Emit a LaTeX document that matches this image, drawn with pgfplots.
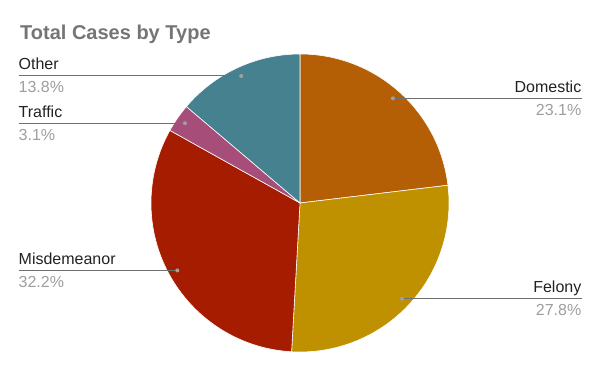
\documentclass[border=0pt]{standalone}
\usepackage{pgfplots}
\usepackage{pgfplotstable}
\pgfplotsset{compat=1.18}
\usepackage{fontspec}
\setmainfont{Liberation Sans}
\definecolor{cDom}{HTML}{B45F06}
\definecolor{cFel}{HTML}{BF9000}
\definecolor{cMis}{HTML}{A61C00}
\definecolor{cTra}{HTML}{A64D79}
\definecolor{cOth}{HTML}{45818E}
\definecolor{titlec}{HTML}{757575}
\definecolor{namec}{HTML}{222222}
\definecolor{pctc}{HTML}{9E9E9E}
\definecolor{leadc}{HTML}{6F6F6F}
\definecolor{dotc}{HTML}{A0A0A0}

\pgfplotstableread{
name pct col
Domestic 23.1 cDom
Felony 27.8 cFel
Misdemeanor 32.2 cMis
Traffic 3.1 cTra
Other 13.8 cOth
}\casedata

\begin{document}
\begin{tikzpicture}
\begin{axis}[width=600pt,height=371pt,scale only axis,xmin=0,xmax=600,ymin=0,ymax=371,hide axis,clip=false]
\addplot[draw=none] coordinates {(0,0) (600,371)};
% slices
\def\cum{0}
\pgfplotsforeachungrouped \i in {0,...,4}{%
  \pgfplotstablegetelem{\i}{pct}\of\casedata \let\p\pgfplotsretval
  \pgfplotstablegetelem{\i}{col}\of\casedata \let\cl\pgfplotsretval
  \pgfmathsetmacro\a{90-3.6*\cum}%
  \pgfmathsetmacro\cum{\cum+\p}%
  \pgfmathsetmacro\b{90-3.6*\cum}%
  \edef\temp{%
    \noexpand\fill[\cl,draw=white,line width=0.6pt] (axis cs:300,168) -- ++(\a:149pt) arc[start angle=\a,end angle=\b,radius=149pt] -- cycle;%
  }\temp
}
% labels
\def\cum{0}
\pgfplotsforeachungrouped \i in {0,...,4}{%
  \pgfplotstablegetelem{\i}{pct}\of\casedata \let\p\pgfplotsretval
  \pgfplotstablegetelem{\i}{name}\of\casedata \let\nm\pgfplotsretval
  \pgfmathsetmacro\a{90-3.6*\cum}%
  \pgfmathsetmacro\cum{\cum+\p}%
  \pgfmathsetmacro\b{90-3.6*\cum}%
  \pgfmathsetmacro\m{(\a+\b)/2}%
  \pgfmathsetmacro\dx{140*cos(\m)}%
  \pgfmathsetmacro\dy{140*sin(\m)}%
  \pgfmathsetmacro\px{300+\dx}%
  \pgfmathsetmacro\py{168+\dy}%
  \pgfmathsetmacro\ny{\py+6}%
  \pgfmathsetmacro\qy{\py-17}%
  \ifdim\dx pt>0pt \def\lx{581.5}\def\anc{base east}\else \def\lx{18.5}\def\anc{base west}\fi
  \edef\temp{%
    \noexpand\draw[leadc,line width=0.9pt] (axis cs:\px,\py) -- (axis cs:\lx,\py);%
    \noexpand\fill[dotc] (axis cs:\px,\py) circle[radius=2pt];%
    \noexpand\node[anchor=\anc,inner sep=0pt,text=namec,font=\noexpand\fontsize{16}{19}\noexpand\selectfont] at (axis cs:\lx,\ny) {\nm};%
    \noexpand\node[anchor=\anc,inner sep=0pt,text=pctc,font=\noexpand\fontsize{16}{19}\noexpand\selectfont] at (axis cs:\lx,\qy) {\p\noexpand\%};%
  }\temp
}
\node[anchor=base west,inner sep=0pt,text=titlec,font=\bfseries\fontsize{20}{24}\selectfont] at (axis cs:20,331) {Total Cases by Type};
\end{axis}
\path (0,0) rectangle (600pt,371pt);
\end{tikzpicture}
\end{document}
